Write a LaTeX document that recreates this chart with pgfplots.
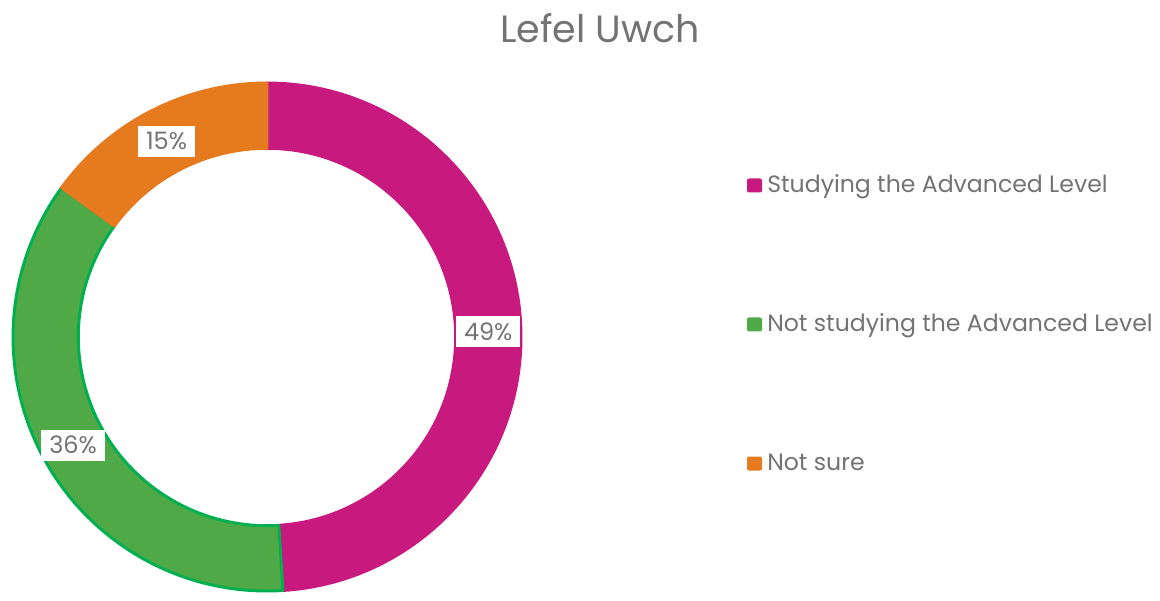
\documentclass[border=0pt]{standalone}
\usepackage{pgfplots}
\pgfplotsset{compat=1.18}
\usepackage{pgfplotstable}
\usepackage{fontspec}
\setmainfont{Poppins}
\definecolor{cMag}{HTML}{C8197E}
\definecolor{cGreen}{HTML}{4EA946}
\definecolor{cGreenLine}{HTML}{00B050}
\definecolor{cOrange}{HTML}{E67A1E}
\definecolor{txt}{HTML}{737373}

% share of answers, in percent
\pgfplotstableread{
value fillc drawc
49 cMag cMag
36 cGreen cGreenLine
15 cOrange cOrange
}\donutdata

\begin{document}
\begin{tikzpicture}
\begin{axis}[
  scale only axis,
  width=870bp, height=445.5bp,
  xmin=0, xmax=1160, ymin=0, ymax=594,
  hide axis, clip=false,
]
\pgfplotsextra{
  \path (axis cs:0,0) rectangle (axis cs:1160,594);
  \coordinate (c) at (axis cs:267,257);
  \xdef\startang{90}
  \pgfplotsforeachungrouped \i in {0,1,2}{
    \pgfplotstablegetelem{\i}{value}\of\donutdata
    \edef\val{\pgfplotsretval}
    \pgfplotstablegetelem{\i}{fillc}\of\donutdata
    \edef\fc{\pgfplotsretval}
    \pgfplotstablegetelem{\i}{drawc}\of\donutdata
    \edef\dc{\pgfplotsretval}
    \pgfmathsetmacro\endang{\startang-3.6*\val}
    \pgfmathsetmacro\midang{(\startang+\endang)/2}
    \fill[fill=\fc, draw=\dc, line width=2.2bp, line join=round]
      ([shift={(\startang:190.5bp)}]c) arc[start angle=\startang, end angle=\endang, radius=190.5bp]
      -- ([shift={(\endang:141.5bp)}]c) arc[start angle=\endang, end angle=\startang, radius=141.5bp] -- cycle;
    \node[fill=white, text=txt, font=\fontsize{18bp}{21bp}\selectfont, inner xsep=6bp, inner ysep=5bp]
      at ([shift={(\midang:166bp)}]c) [yshift=-1.2bp] {\val\%};
    \xdef\startang{\endang}
  }
  \node[text=txt, font=\fontsize{28.5bp}{32bp}\selectfont, inner sep=0pt] at (axis cs:600,566) {Lefel Uwch};
  \foreach \y/\lab/\col in {407/{Studying the Advanced Level}/cMag, 268/{Not studying the Advanced Level}/cGreen, 129/{Not sure}/cOrange}{
    \fill[\col, rounded corners=1.5bp] (axis cs:747,\y-5.5) rectangle (axis cs:762,\y+8.5);
    \node[anchor=base west, text=txt, font=\fontsize{17.7bp}{22bp}\selectfont, inner sep=0pt] at (axis cs:767,\y-5.5) {\lab};
  }
}
\end{axis}
\end{tikzpicture}
\end{document}
